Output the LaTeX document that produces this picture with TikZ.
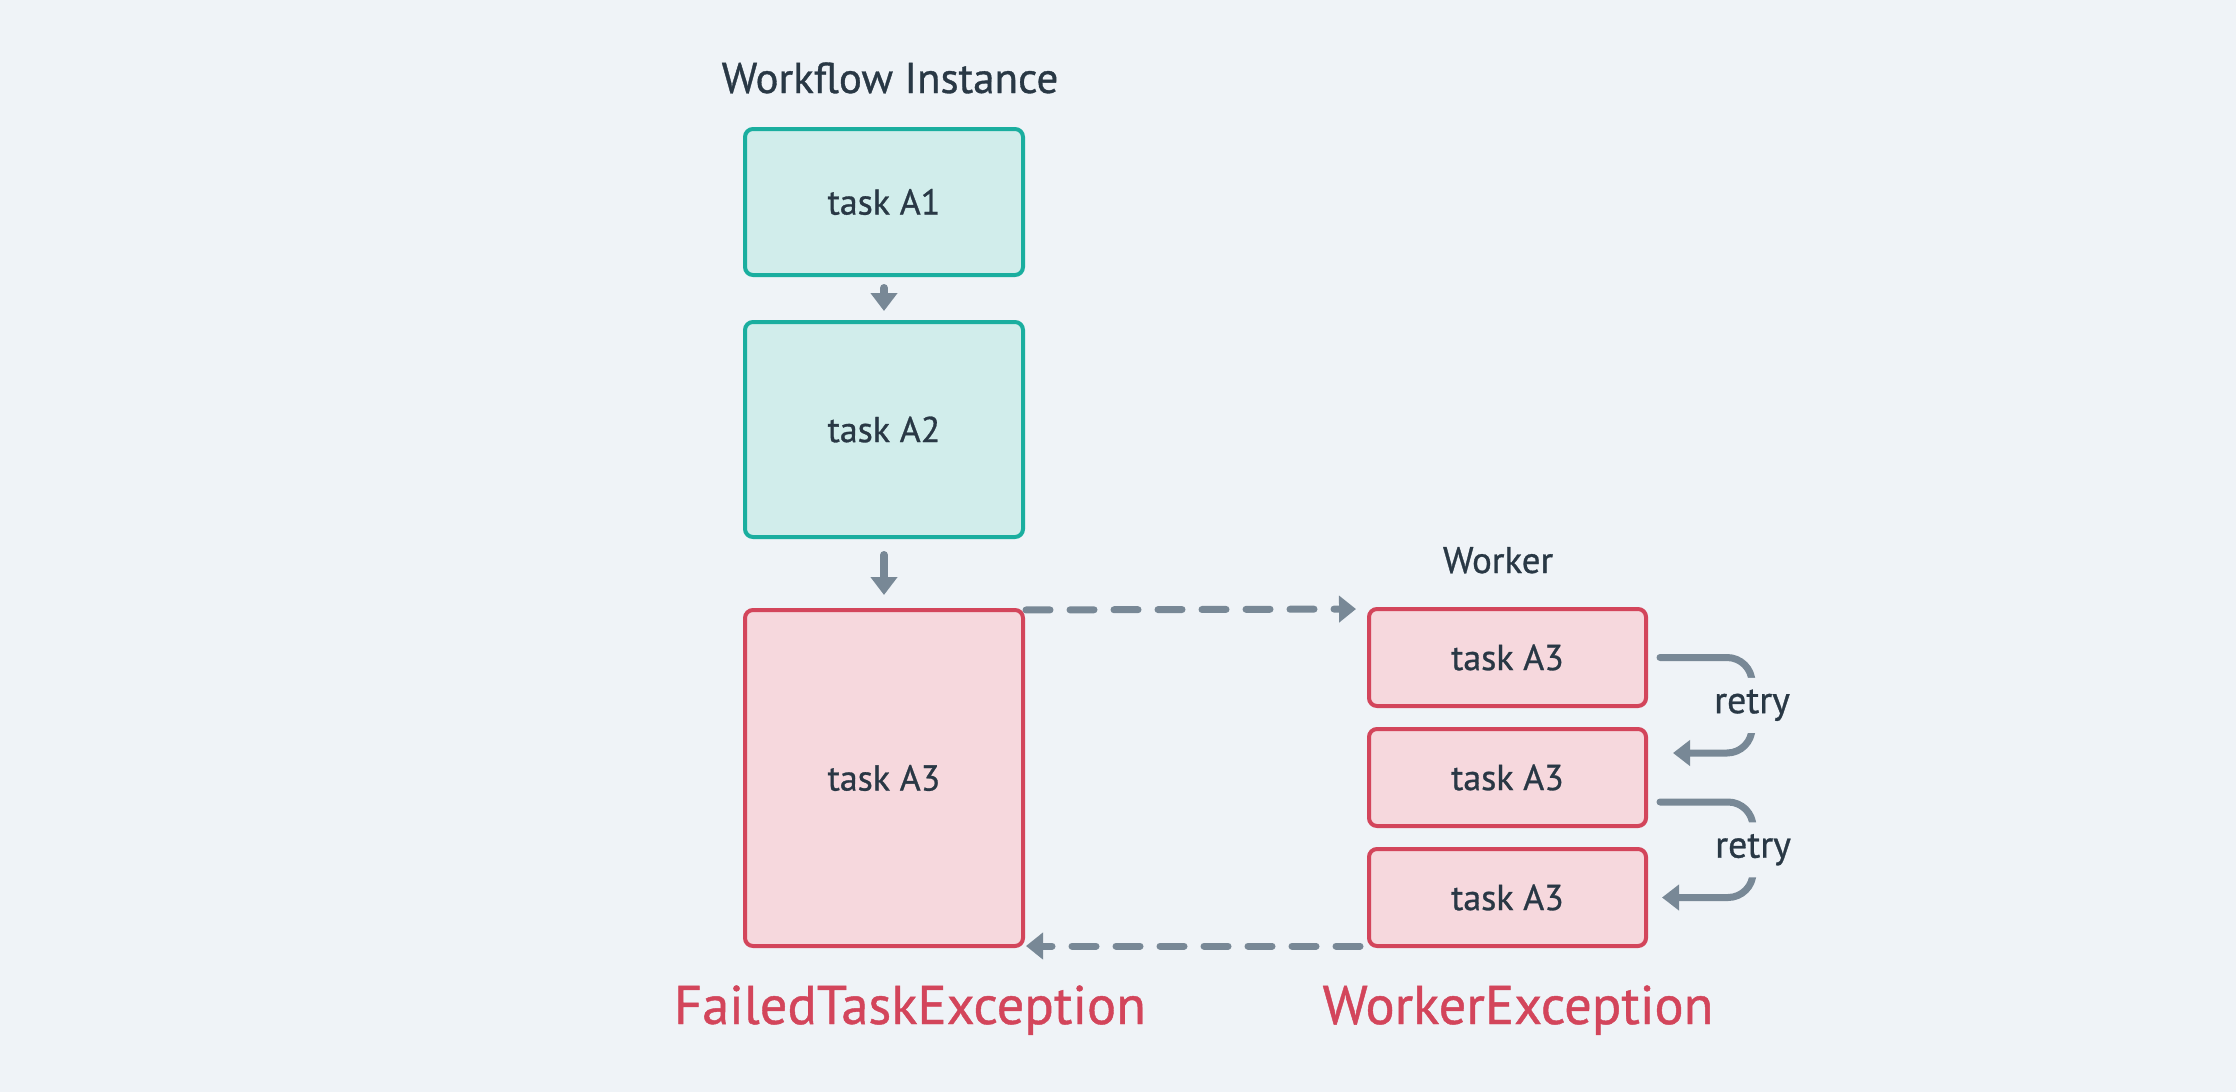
\documentclass[tikz,border=0pt]{standalone}
\usepackage{fontspec}
\setmainfont{PT Sans}[FakeBold=0.8]
\usetikzlibrary{arrows.meta,calc}
\definecolor{bg}{HTML}{EFF3F7}
\definecolor{tealline}{HTML}{1AAE9F}
\definecolor{tealfill}{HTML}{D1EDEB}
\definecolor{redline}{HTML}{D3455B}
\definecolor{redfill}{HTML}{F6D8DD}
\definecolor{grayline}{HTML}{788896}
\definecolor{ink}{HTML}{293845}
\begin{document}
\begin{tikzpicture}[x=1pt,y=-1pt,
  box/.style={draw, line width=4pt, rounded corners=8pt, outer sep=0pt, inner sep=0pt,
    font=\fontsize{36}{42}\selectfont, text=ink},
  okbox/.style={box, draw=tealline, fill=tealfill, minimum width=278pt},
  errbox/.style={box, draw=redline, fill=redfill},
  wbox/.style={errbox, minimum width=277pt, minimum height=97pt},
  flow/.style={draw=grayline, line width=8pt, line cap=round, -{Triangle[width=26pt,length=18pt]}},
  dasharr/.style={draw=grayline, line width=7pt, line cap=round, dash pattern=on 24pt off 20pt,
    -{Triangle[width=26pt,length=17pt]}},
  retryarr/.style={draw=grayline, line width=7pt, line cap=round, rounded corners=25pt,
    -{Triangle[width=25pt,length=17pt]}},
  rlabel/.style={fill=bg, text=ink, font=\fontsize{38}{44}\selectfont, inner xsep=3pt, inner ysep=0pt, minimum height=55pt},
  title/.style={text=ink, anchor=base, inner sep=0pt},
  exc/.style={text=redline, anchor=base, inner sep=0pt, font=\fontsize{54.5}{60}\selectfont}
]
\fill[bg] (0,0) rectangle (2236,1092);

\node[title, font=\fontsize{43}{50}\selectfont] (t1) at (890,93) {Workflow Instance};
\node[title, font=\fontsize{37}{44}\selectfont] (t2) at (1498,573) {Worker};

\node[okbox, minimum height=146pt] (a1) at (884,202) {task A1};
\node[okbox, minimum height=215pt] (a2) at (884,429.5) {task A2};
\node[errbox, minimum width=278pt, minimum height=336pt] (a3) at (884,778) {task A3};

\node[wbox] (w1) at (1507.5,657.5) {task A3};
\node[wbox] (w2) at (1507.5,777.5) {task A3};
\node[wbox] (w3) at (1507.5,897.5) {task A3};

\node[exc] (e1) at (910,1024) {FailedTaskException};
\node[exc] (e2) at (1518,1024) {WorkerException};

\draw[flow, shorten <=13pt, shorten >=11pt] (a1.south) -- (a2.north);
\draw[flow, shorten <=18pt, shorten >=15pt] (a2.south) -- (a3.north);

\draw[dasharr, shorten <=3pt, shorten >=13pt] (a3.north east) -- (w1.north west);
\draw[dasharr, shorten <=9pt, shorten >=3pt] (w3.south west) -- (a3.south east);

\draw[retryarr] ($(w1.east)+(14,0)$) -- ($(w1.east)+(106,0)$)
  -- node[rlabel] (r1) {retry} ($(w2.east)+(106,-24.5)$) -- ($(w2.east)+(27,-24.5)$);
\draw[retryarr] ($(w2.east)+(14,24.5)$) -- ($(w2.east)+(107,24.5)$)
  -- node[rlabel] (r2) {retry} ($(w3.east)+(107,0)$) -- ($(w3.east)+(16,0)$);
\end{tikzpicture}
\end{document}
